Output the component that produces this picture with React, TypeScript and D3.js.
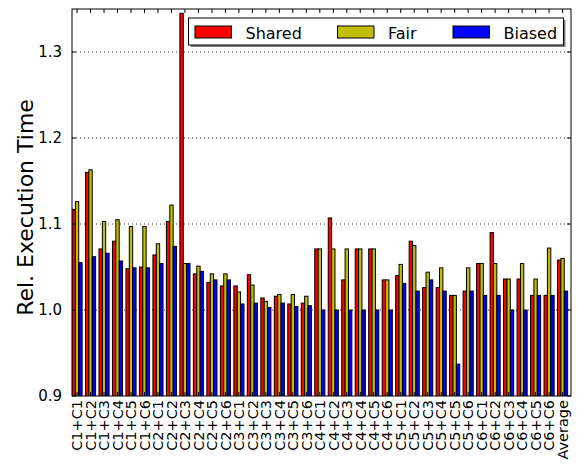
import React, { useEffect, useRef } from 'react';
import * as d3 from 'd3';

const categories = [
  'C1+C1', 'C1+C2', 'C1+C3', 'C1+C4', 'C1+C5', 'C1+C6',
  'C2+C1', 'C2+C2', 'C2+C3', 'C2+C4', 'C2+C5', 'C2+C6',
  'C3+C1', 'C3+C2', 'C3+C3', 'C3+C4', 'C3+C5', 'C3+C6',
  'C4+C1', 'C4+C2', 'C4+C3', 'C4+C4', 'C4+C5', 'C4+C6',
  'C5+C1', 'C5+C2', 'C5+C3', 'C5+C4', 'C5+C5', 'C5+C6',
  'C6+C1', 'C6+C2', 'C6+C3', 'C6+C4', 'C6+C5', 'C6+C6',
  'Average',
];

const shared = [
  1.117, 1.160, 1.071, 1.080, 1.048, 1.050,
  1.064, 1.103, 1.345, 1.042, 1.032, 1.028,
  1.028, 1.041, 1.014, 1.016, 1.007, 1.008,
  1.071, 1.107, 1.035, 1.071, 1.071, 1.035,
  1.040, 1.080, 1.026, 1.026, 1.017, 1.022,
  1.054, 1.090, 1.036, 1.036, 1.017, 1.017,
  1.058,
];

const fair = [
  1.126, 1.163, 1.103, 1.105, 1.097, 1.097,
  1.077, 1.122, 1.054, 1.051, 1.042, 1.042,
  1.021, 1.029, 1.010, 1.018, 1.018, 1.016,
  1.071, 1.071, 1.071, 1.071, 1.071, 1.035,
  1.053, 1.075, 1.044, 1.049, 1.017, 1.049,
  1.054, 1.054, 1.036, 1.054, 1.036, 1.072,
  1.060,
];

const biased = [
  1.055, 1.062, 1.066, 1.057, 1.049, 1.049,
  1.054, 1.074, 1.054, 1.045, 1.035, 1.035,
  1.007, 1.008, 1.003, 1.008, 1.004, 1.005,
  1.000, 1.000, 1.000, 1.000, 1.000, 1.000,
  1.031, 1.022, 1.035, 1.022, 0.937, 1.022,
  1.017, 1.017, 1.000, 1.000, 1.017, 1.017,
  1.022,
];

const seriesNames = ['Shared', 'Fair', 'Biased'];
const seriesColors = ['#ff0000', '#bfbf00', '#0000ff'];
const yTicks = [0.9, 1.0, 1.1, 1.2, 1.3];
const gridTicks = [1.0, 1.1, 1.2, 1.3];

const App = () => {
  const svgRef = useRef<SVGSVGElement>(null);

  useEffect(() => {
    const left = 72, right = 571, top = 9, bottom = 396;
    const font = 'DejaVu Sans, sans-serif';

    const svg = d3.select(svgRef.current);
    svg.selectAll('*').remove();

    const x = d3.scaleLinear().domain([0, categories.length]).range([left, right]);
    const y = d3.scaleLinear().domain([0.9, 1.35]).range([bottom, top]);
    const barW = x(0.25) - x(0);

    const series = [shared, fair, biased];

    svg.append('defs').append('clipPath').attr('id', 'plot-clip')
      .append('rect')
      .attr('x', left).attr('y', top)
      .attr('width', right - left).attr('height', bottom - top);

    // dotted grid
    svg.selectAll('.grid-line')
      .data(gridTicks)
      .enter().append('line')
      .attr('x1', left).attr('x2', right)
      .attr('y1', d => y(d)).attr('y2', d => y(d))
      .attr('stroke', '#000')
      .attr('stroke-width', 0.8)
      .attr('stroke-dasharray', '1,3');

    const bars = svg.append('g').attr('clip-path', 'url(#plot-clip)');
    series.forEach((vals, s) => {
      bars.selectAll(`.bar-${s}`)
        .data(vals)
        .enter().append('rect')
        .attr('x', (d, i) => x(i + 0.25 * s))
        .attr('y', d => y(d))
        .attr('width', barW)
        .attr('height', d => y(0.9) - y(d) + 2)
        .attr('fill', seriesColors[s])
        .attr('stroke', '#000')
        .attr('stroke-width', 1);
    });

    // frame
    svg.append('rect')
      .attr('x', left).attr('y', top)
      .attr('width', right - left).attr('height', bottom - top)
      .attr('fill', 'none').attr('stroke', '#000').attr('stroke-width', 1);

    // x ticks (top and bottom, inside)
    const xt = categories.map((c, i) => i + 0.375);
    svg.selectAll('.xtick-top')
      .data(xt).enter().append('line')
      .attr('x1', d => x(d)).attr('x2', d => x(d))
      .attr('y1', top).attr('y2', top + 4)
      .attr('stroke', '#000');
    svg.selectAll('.xtick-bot')
      .data(xt).enter().append('line')
      .attr('x1', d => x(d)).attr('x2', d => x(d))
      .attr('y1', bottom).attr('y2', bottom - 4)
      .attr('stroke', '#000');

    svg.selectAll('.xlabel')
      .data(categories).enter().append('text')
      .attr('transform', (d, i) => `translate(${x(i + 0.375)},${bottom + 4}) rotate(-90)`)
      .attr('dy', '0.36em')
      .attr('text-anchor', 'end')
      .attr('font-family', font)
      .attr('font-size', 14.5)
      .text(d => d);

    // y ticks (left and right, inside)
    svg.selectAll('.ytick-l')
      .data(yTicks).enter().append('line')
      .attr('x1', left).attr('x2', left + 4)
      .attr('y1', d => y(d)).attr('y2', d => y(d))
      .attr('stroke', '#000');
    svg.selectAll('.ytick-r')
      .data(yTicks).enter().append('line')
      .attr('x1', right).attr('x2', right - 4)
      .attr('y1', d => y(d)).attr('y2', d => y(d))
      .attr('stroke', '#000');
    svg.selectAll('.ylabel')
      .data(yTicks).enter().append('text')
      .attr('x', left - 10)
      .attr('y', d => y(d))
      .attr('dy', '0.36em')
      .attr('text-anchor', 'end')
      .attr('font-family', font)
      .attr('font-size', 15)
      .text(d => d3.format('.1f')(d));

    svg.append('text')
      .attr('transform', `translate(33,${(top + bottom) / 2 + 5}) rotate(-90)`)
      .attr('text-anchor', 'middle')
      .attr('font-family', font)
      .attr('font-size', 22)
      .text('Rel. Execution Time');

    // legend
    const lg = svg.append('g');
    lg.append('rect')
      .attr('x', 190.5).attr('y', 20)
      .attr('width', 375).attr('height', 27)
      .attr('fill', '#808080');
    lg.append('rect')
      .attr('x', 188.5).attr('y', 18)
      .attr('width', 375).attr('height', 27)
      .attr('fill', '#fff').attr('stroke', '#000');
    const patchX = [195, 337.5, 453];
    seriesNames.forEach((name, s) => {
      lg.append('rect')
        .attr('x', patchX[s]).attr('y', 26)
        .attr('width', 36.5).attr('height', 12)
        .attr('fill', seriesColors[s])
        .attr('stroke', '#000');
      lg.append('text')
        .attr('x', patchX[s] + 50.5).attr('y', 38.5)
        .attr('font-family', font)
        .attr('font-size', 16)
        .text(name);
    });
  }, []);

  return (
    <svg
      ref={svgRef}
      width={577}
      height={464}
      style={{ position: 'absolute', left: 0, top: 0, background: '#fff' }}
    ></svg>
  );
};

export default App;
